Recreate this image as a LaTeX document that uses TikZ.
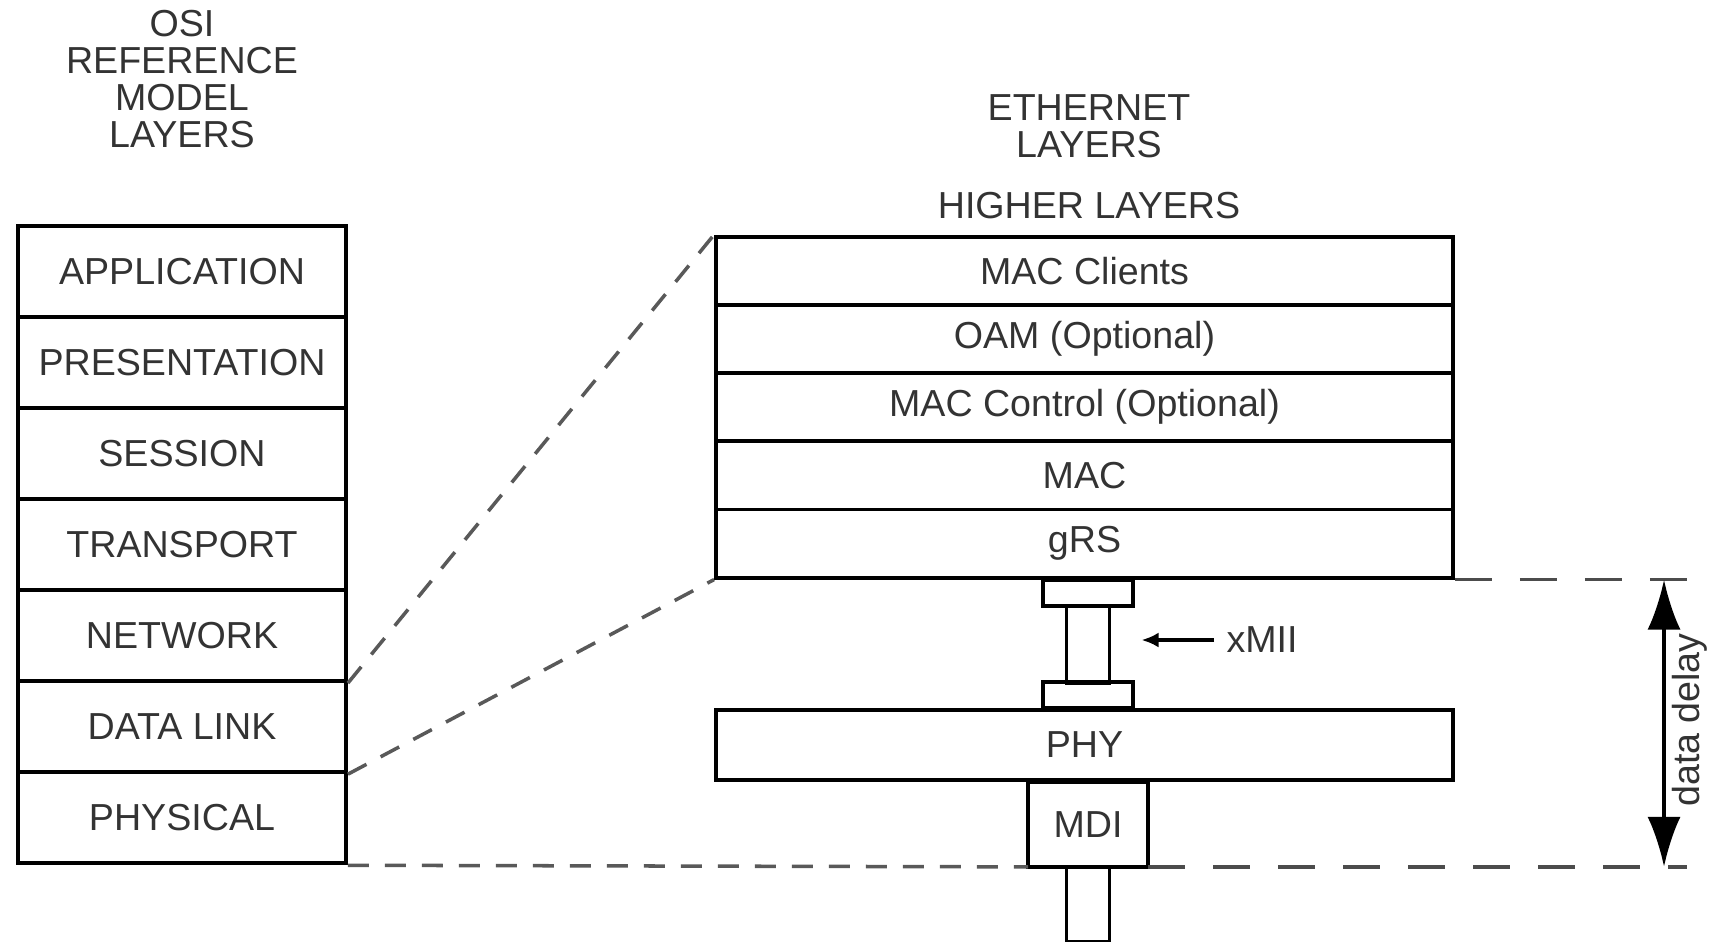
\documentclass[tikz,border=0pt]{standalone}
\usepackage{fontspec}
\setmainfont{Liberation Sans}
\usetikzlibrary{arrows.meta, positioning, matrix}

\begin{document}
\begin{tikzpicture}[font=\fontsize{10.7}{10.8}\selectfont,
            osi layer/.style={draw, line width=1.1pt, text=black!80, minimum width=3.28cm, minimum height=0.911cm, inner sep=0pt},
            eth layer/.style={draw, line width=1.1pt, text=black!80, minimum width=7.37cm, minimum height=0.682cm, inner sep=0pt},
            plug/.style={draw, line width=1.1pt, text=black!80, inner sep=0pt, outer sep=0pt},
            heading/.style={align=center, text=black!80, font=\fontsize{10.7}{10.6}\selectfont},
            zoomline/.style={dash pattern=on 0.21cm off 0.16cm, line width=1pt, black!65},
            delayline/.style={dash pattern=on 0.37cm off 0.28cm, line width=1pt, black!70}]

            \useasboundingbox (0,0) rectangle (17.13,-9.41);

            % Titles
            \node[heading] (osititle) at (1.82,-0.79) {OSI\\REFERENCE\\MODEL\\LAYERS};
            \node[heading] (ethtitle) at (10.89,-1.26) {ETHERNET\\LAYERS};
            \node[heading] (higher) at (10.89,-2.06) {HIGHER LAYERS};

            % OSI stack
            \matrix[matrix of nodes,
                nodes={osi layer},
                row sep=-1.1pt,
                inner sep=0pt,
                anchor=north] (osi) at (1.82,-2.23) {
                APPLICATION \\
                PRESENTATION \\
                SESSION \\
                TRANSPORT \\
                NETWORK \\
                DATA LINK \\
                PHYSICAL \\
            };

            % Ethernet stack
            \matrix[matrix of nodes,
                nodes={eth layer},
                row sep=-1.1pt,
                inner sep=0pt,
                anchor=north] (eth) at (10.845,-2.34) {
                MAC Clients \\
                OAM (Optional) \\
                MAC Control (Optional) \\
                MAC \\
                gRS \\
            };

            \node[eth layer, minimum height=0.70cm, anchor=north] (phy) at (10.845,-7.08) {PHY};

            % xMII connector and MDI
            \coordinate (bus) at (10.88,0);
            \node[plug, minimum width=0.9cm, minimum height=0.26cm, anchor=north] (flangetop) at (eth-5-1.south -| bus) {};
            \node[plug, minimum width=0.9cm, minimum height=0.26cm, anchor=south] (flangebot) at (phy.north -| bus) {};
            \node[plug, minimum width=0.43cm, minimum height=0.77cm, anchor=north] (stem) at (flangetop.south) {};
            \node[plug, minimum width=1.2cm, minimum height=0.85cm, anchor=north] (mdi) at (phy.south -| bus) {MDI};
            \node[plug, minimum width=0.43cm, minimum height=0.75cm, anchor=north] (cable) at (mdi.south) {};

            \node[text=black!80] (xmii) at (12.62,-6.40) {xMII};
            \coordinate (xmiitip) at ([xshift=0.32cm]stem.east |- xmii.west);
            \draw[-{Latex[length=0.17cm, width=0.15cm]}, line width=1pt] (xmii.west) -- (xmiitip);

            % Zoom lines
            \draw[zoomline] (osi-5-1.south east) -- (eth-1-1.north west);
            \draw[zoomline] (osi-6-1.south east) -- (eth-5-1.south west);
            \draw[zoomline] (osi-7-1.south east) -- (mdi.south west);

            % Data delay
            \coordinate (delaytop) at (eth-5-1.south east -| 16.64,0);
            \coordinate (delaybot) at (mdi.south east -| 16.64,0);
            \draw[delayline] (eth-5-1.south east) -- ([xshift=0.23cm]delaytop);
            \draw[delayline] (mdi.south east) -- ([xshift=0.23cm]delaybot);
            \draw[{Latex[length=0.5cm, width=0.33cm]}-{Latex[length=0.5cm, width=0.33cm]}, line width=1.1pt] (delaytop) -- (delaybot);
            \node[rotate=90, anchor=north, inner sep=0pt, text=black!80] (delaylabel) at (16.72,-7.20) {data delay};
        \end{tikzpicture}
\end{document}
